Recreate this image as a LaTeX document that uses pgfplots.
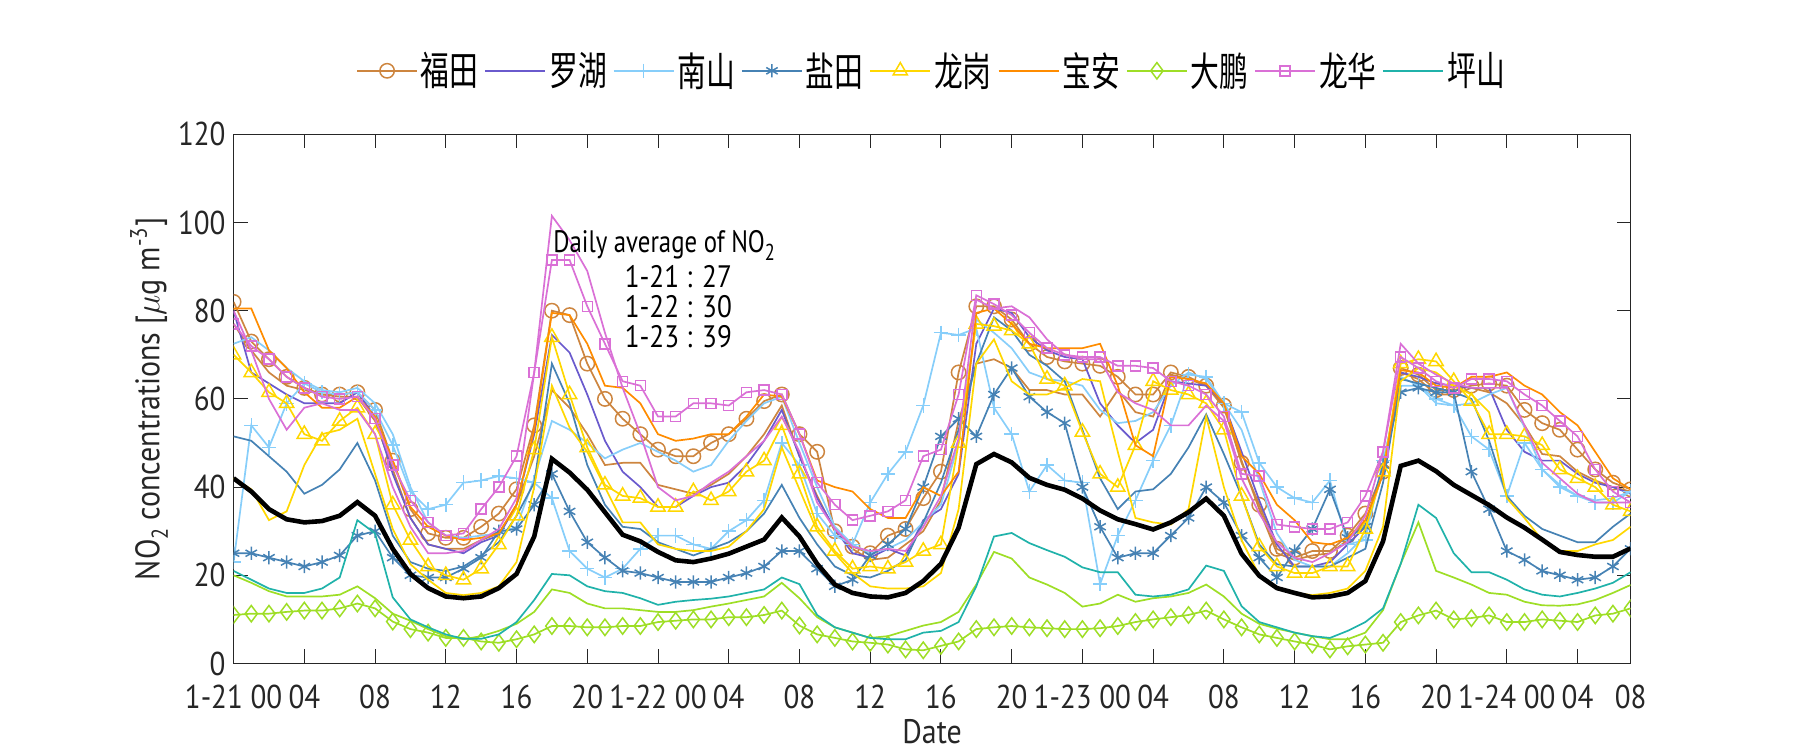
\documentclass[border=0pt]{standalone}
\usepackage{pgfplots}
\pgfplotsset{compat=1.18}
\usepackage{pgfplotstable}
\usepackage{fontspec}
\setmainfont{PT Sans}
\newfontfamily\cond[FakeStretch=0.88]{PT Sans}
\newfontfamily\condb[FakeStretch=0.8]{PT Sans}
\newfontfamily\cjk[FakeStretch=0.72]{Noto Sans CJK SC}
\definecolor{cFT}{RGB}{205,133,63}
\definecolor{cLH}{RGB}{106,90,205}
\definecolor{cNS}{RGB}{135,206,250}
\definecolor{cYT}{RGB}{70,130,180}
\definecolor{cLG}{RGB}{255,215,0}
\definecolor{cBA}{RGB}{255,140,0}
\definecolor{cDP}{RGB}{158,222,38}
\definecolor{cLHua}{RGB}{218,112,214}
\definecolor{cPS}{RGB}{32,178,170}
\definecolor{axgray}{RGB}{38,38,38}
\newcommand\tf{\cond\fontsize{16.5pt}{19pt}\selectfont}
\newcommand\lf{\cond\fontsize{17pt}{20pt}\selectfont}
\newcommand\af{\condb\fontsize{15.5pt}{18pt}\selectfont}
\newcommand\nf{\cond\fontsize{15.5pt}{18pt}\selectfont}
\newcommand\sub[1]{\raisebox{-0.5ex}{\fontsize{11.5pt}{11.5pt}\selectfont #1}}

\pgfplotstableread{
x fa fb lh nsa nsb yta ytb lga lgb ba dpa dpb lhua lhub ps avg
0 82 77 80 23 72.5 25 51.5 70 42 80.5 11 20 77 80 21 42
1 73 71 66 54 74 25 50.5 66 39.5 80.5 11.3 18.3 72 71 19 39
2 69 66 63.5 49 71 24 47 61.5 32.5 71 11.3 16.4 69 60 17 35
3 65 63 61 59 67 23 43.5 59 34.5 67 11.7 15.2 65 53 16 32.7
4 62.5 62 59 63.5 64 22 38.5 52 45 61.5 12 15.2 62.5 58 16 32
5 61 61 59 61.5 62 23 40.5 50.5 52 58 12 15.2 60.5 59 17 32.3
6 61 60.5 59 61 61.5 24.5 44 55 53 58 12.5 15.6 60 57.5 19.5 33.5
7 61.5 60.5 61.5 61.5 62.5 29 50 58 55.5 60.5 13.6 17.5 60.5 57.5 32.5 36.6
8 57.5 55 56 57.5 59 30 41.5 52 43 56 12.5 14.8 55.5 52 29.5 33.5
9 46 44 43 49.5 52 24 29 36 30.5 46 9.5 11.3 45 40 15 26
10 35 33 33 39 40 20 23 28 22.5 35.5 7.8 9.7 37 31 10 20.3
11 29.5 27 27 35 32 19.5 21.5 22 19 31 7 7.8 32 25 8.2 17.1
12 28.5 26 26 36 29 19.5 21 20 16 29 5.8 6.2 29 25 6.6 15.2
13 28.5 26 25 41 28.5 21.5 22 19 15.5 28 5.8 5.5 29.5 25.5 5.6 14.8
14 31 28 27.5 41.5 29 24 24.5 21.5 16 28.5 5 6.2 35 28 5.6 15.2
15 34 29.5 29 42.5 29.5 30 27.5 27 17.5 29.5 4.7 7.4 40 30.5 6.6 17.1
16 39.5 36 36 42 31 30.5 33.5 33.5 23 36 5.5 9 47 37.5 9.4 20.3
17 54 47 52 41 42 36 41 48.5 40 53 6.6 11.7 66 66 14.4 28.8
18 80 62 74.5 37.5 55 43 68 74 63 79.5 8.5 16.8 91.5 101.5 20.3 46.4
19 79 58 70.5 25.5 53 34.5 59 61 53.5 79 8.5 16 91.5 96 20 43.3
20 68 52 61 21.5 50 27.5 45 49 48 72.5 8.2 13.6 81 89 17.5 39.4
21 60 45 50.5 19.5 46.5 24 36 40.5 40 63 8.2 12.5 72.5 75 16.4 34.3
22 55.5 45.5 43.5 21.5 48.5 21 31 38 32 62.5 8.5 12.5 64 62.5 16 29.2
23 52 45.5 40 26 50 20.5 30.5 37.5 32 59 8.5 12.1 63 52 14.8 27.7
24 48.5 40.5 35.5 29 48 19.5 27.5 35.5 27 52 9.4 11.7 56 40 13.3 25.3
25 47 39.5 35.5 29 46 18.5 26 35.5 26 50.5 9.7 11.7 56 37 14 23.4
26 47 38.5 38 27 43.5 18.5 24.5 39 25.5 51 10 12.1 59 38 14.4 23
27 50 40.5 40 26 45 18.5 26 37 25.5 52 10 12.9 59 41 14.7 23.8
28 52 43 41 30 50.5 19.5 27.5 39 26.5 52 10.5 13.6 58.5 43.5 15.2 24.9
29 55.5 47 45 32.5 55 20.5 30 43.5 30 56 10.5 14.4 61.5 47 16 26.5
30 59.5 52 50.5 37 59 22 34 46 35 61 11 15.2 62 50.5 16.8 28.1
31 61 58.5 57.5 50 60.5 25.5 40.5 54 49 60.5 12 18.3 61 56 19.5 33.1
32 52 47 47 45 50 25.5 33 43 39.5 52 8.6 14.8 52 48 18 28.8
33 48 38 37.5 34 40 21.5 27 31 30 41.5 6.6 10.5 41 36.5 11 22.6
34 30 30 30.5 29 31 17.5 22 25.5 25 40 5.8 8.2 36 30.5 8.2 17.9
35 26.5 26 25 27 27 19 20 21.5 20.5 39 5 7 32.5 26.5 7 16
36 25 23.5 24 36.5 25 24.5 19.5 22 17.5 35 4.7 5.8 33.5 25.5 5.8 15.2
37 29 24 26 43 26 27 21 21.5 17 33 4.3 6.2 34.5 26 5.5 15
38 30.5 27 24.5 48 28 30.5 23.5 23 17 33 3.2 7.4 37 25.5 5.5 16
39 37.5 30 32.5 58.5 32 40 32 25.5 17.5 40 3 8.6 47 31 7 18.7
40 43.5 37 35 75 36 51.5 41 27 20.5 38 4 9.4 48.5 38 7.4 22.6
41 66 55 43 74.5 50 55.5 53 50 35 43.5 5 11.7 61 51 9.4 30.8
42 81 68 72.5 76 78 51.5 68 77 68 79.5 7.8 17.9 83.5 82.5 17.5 45.2
43 81 69 80.5 58 75 61 78.5 76.5 73.5 80.5 8.2 25.3 81.5 80.5 28.8 47.5
44 78 67 79.5 52 71.5 67 75.5 75.5 64 77 8.5 23.8 79 81 29.6 45.6
45 72.5 62 74 39 66 60.5 70 72.5 61 72.5 8.2 19.5 75 78.5 27.3 42.1
46 69.5 62 71 45 64.5 57 67.5 64.5 61 71.5 8 17.9 71.5 73.5 25.7 40.5
47 68.5 61 69.5 41.5 64 54.5 64 63 62.5 71.5 7.8 16 70 70 24.2 39.4
48 68 61 69 41 63 40 53 52.5 64.5 71.5 7.8 12.9 69.5 69 21.8 37.4
49 67.5 56 59 18 57.5 31 42 43 64 72.5 8 13.6 69.5 69 20.7 34.7
50 65 62 54 29 54.5 24 35 40 48 63 8.5 15.6 67.5 61.5 20.7 32.7
51 61 57 50 37 55 25 39 49.5 33 49.5 9.4 14 67.5 59 15.6 31.6
52 61 56 53 46 57 25 39.5 64 32 47 10 14.8 67 57.5 15.2 30.4
53 66 65.5 64 54 63 29 43 62 31.5 65 10.5 15.2 64 54 15.6 32
54 65 64.5 63.5 65.5 66 33 49 61 35 64.5 11 16 63 54 16.8 34.3
55 63 63 63 65 64.5 40 56.5 59 56 63.5 12 17.9 61 58.5 22.2 37.4
56 58.5 58 59 59 59 36.5 47.5 53 40 59 10 15.2 56 55 21 33.5
57 45.5 46 48 57 53 29 38 38 28 47 8.2 11.3 43 42 13 24.9
58 36 35 37 45.5 41.5 24 27 26.5 20 43 6.6 9 42.5 34 9.4 19.9
59 26 25 27 40 29.5 19.5 22.5 22 17 36 5.8 7.9 31.5 27.5 8.2 17.1
60 24 23.5 22 37.5 23.5 25.5 22 20.5 16 32.5 5 7 31 24 7 16
61 25.5 24.5 22 36.5 22 30.5 22 20.5 15.5 27.5 4.3 6.2 30.5 23 6.2 15
62 25.5 25 23 41.5 22 39.5 22 22 16 27 3.2 5.5 30.5 25 5.8 15.2
63 29 28 27 27 25 28.5 24 22 17 28.5 3.9 5.5 32 27.5 7.4 16
64 34 32 31 28 29 31 26 30.5 21 32.5 4.3 7 38 33.5 9.4 18.7
65 43.5 43 43.5 46 45 45 41 43.5 31 43 4.7 12.1 48 48 12.5 27.7
66 67 66 66 63 65 61.5 64.5 68 64 66.5 9.4 22.6 69.5 72.5 22.6 44.8
67 65.5 64.5 65 63 63 62.5 63.5 69 67 66 10.9 32 67 68 36 46
68 62 61 63.5 60 59 61.5 62.5 68.5 66 63 12 21 64 65.5 33 43.6
69 62 61 63 58.5 58.5 61.5 61.5 64 63 62.5 10 19.5 62.5 63.5 25 40.5
70 63 62.5 62.5 51.5 59 43.5 60 59.5 61 65 10.3 17.9 64.5 62.5 20.7 38.2
71 63.5 61.5 62.5 48.5 61 35 50.5 52 57 65 10.9 16 64.5 62.5 20.7 35.9
72 63 59 53 38 62.5 25.5 38 52 37.5 66 9.4 15.6 64 62.5 19 33.1
73 57.5 54 48 50 53.5 23.5 33.5 51.5 33 63 9.4 14 61 54 16.8 30.8
74 54.5 47.5 46 44 44 21 30.5 49.5 28 61 10 13.2 58.5 45.5 15.6 28.1
75 53 47 46 40 40.5 20 29 44 25.5 57 9.7 13.1 55 42 15.2 25.3
76 48.5 43.5 43 38 38 19 27.5 42 25.5 54 9.4 13.4 51.5 38.5 16 24.6
77 44 41.5 41 36.5 37 19.5 27.5 40 27 48 10.9 14.4 44 36.5 17 24.2
78 41 40 40 36.5 37.5 22 31 36 28 42 11.3 16 39 36.5 18.3 24.2
79 39.5 39 38.5 39 39 26 34 34.5 31 39.5 12.5 17.8 36.5 36.5 20.7 26.1
}\data

\begin{document}
\begin{tikzpicture}
\useasboundingbox (-116.8pt,-43.25pt) rectangle (783.2pt,331.75pt);
\begin{axis}[
  at={(0,0)}, anchor=south west,
  width=698.5pt, height=264.6pt, scale only axis,
  xmin=0, xmax=79, ymin=0, ymax=120,
  xtick={0,4,...,76,79},
  xticklabels={1-21 00,04,08,12,16,20,1-22 00,04,08,12,16,20,1-23 00,04,08,12,16,20,1-24 00,04,08},
  ytick={0,20,...,120},
  tick align=inside, tick pos=both, major tick length=7pt,
  axis line style={draw=axgray, line width=0.5pt},
  tick style={draw=axgray, line width=0.5pt},
  ticklabel style={font=\tf, text=axgray},
  /pgf/number format/assume math mode=true,
  xticklabel style={anchor=center, yshift=-16.75pt},
  yticklabel style={xshift=-0.5pt},
  xlabel={Date},
  xlabel style={at={(axis description cs:0.5,-0.128)}, anchor=center, font=\lf, text=axgray},
  ylabel={NO\sub{2} concentrations [$\mu$g m\textsuperscript{-3}]},
  ylabel style={at={(axis description cs:-0.0606,0.5)}, anchor=center, font=\lf, text=axgray},
  clip marker paths=true,
  every axis plot/.append style={line width=0.85pt},
  legend image code/.code={\draw[mark repeat=2,mark phase=2] plot coordinates {(0pt,0pt) (15pt,0pt) (30pt,0pt)};},
  legend style={at={(0.5,1.12)}, anchor=center, draw=none, fill=none,
    legend columns=9, font={\cjk\fontsize{20pt}{22pt}\selectfont},
    nodes={inner sep=1.5pt},
    /tikz/every even column/.append style={column sep=1.5pt}},
]
\addplot[color=cFT, mark=o, mark size=3.6pt, mark options={solid,line width=0.75pt}] table[x=x,y=fa]{\data};
\addlegendentry{福田}
\addplot[color=cFT, forget plot] table[x=x,y=fb]{\data};
\addplot[color=cLH] table[x=x,y=lh]{\data};
\addlegendentry{罗湖}
\addplot[color=cNS, mark=+, mark size=3.6pt, mark options={solid,line width=0.75pt}] table[x=x,y=nsa]{\data};
\addlegendentry{南山}
\addplot[color=cNS, forget plot] table[x=x,y=nsb]{\data};
\addplot[color=cYT, mark=asterisk, mark size=3.3pt, mark options={solid,line width=0.75pt}] table[x=x,y=yta]{\data};
\addlegendentry{盐田}
\addplot[color=cYT, forget plot] table[x=x,y=ytb]{\data};
\addplot[color=cLG, mark=triangle, mark size=4.1pt, mark options={solid,line width=0.75pt}] table[x=x,y=lga]{\data};
\addlegendentry{龙岗}
\addplot[color=cLG, forget plot] table[x=x,y=lgb]{\data};
\addplot[color=cBA] table[x=x,y=ba]{\data};
\addlegendentry{宝安}
\addplot[color=cDP, mark=diamond, mark size=4.1pt, mark options={solid,line width=0.75pt}] table[x=x,y=dpa]{\data};
\addlegendentry{大鹏}
\addplot[color=cDP, forget plot] table[x=x,y=dpb]{\data};
\addplot[color=cLHua, mark=square, mark size=2.5pt, mark options={solid,line width=0.75pt}] table[x=x,y=lhua]{\data};
\addlegendentry{龙华}
\addplot[color=cLHua, forget plot] table[x=x,y=lhub]{\data};
\addplot[color=cPS] table[x=x,y=ps]{\data};
\addlegendentry{坪山}
\addplot[black, line width=2.3pt, forget plot] table[x=x,y=avg]{\data};
\node[anchor=base west, font=\af, inner sep=0pt] at (axis cs:18.06,93.2) {Daily average of NO\sub{2}};
\node[anchor=base west, font=\nf, inner sep=0pt] at (axis cs:22.1,85.2) {1-21 : 27};
\node[anchor=base west, font=\nf, inner sep=0pt] at (axis cs:22.1,78.5) {1-22 : 30};
\node[anchor=base west, font=\nf, inner sep=0pt] at (axis cs:22.1,71.7) {1-23 : 39};
\end{axis}
\end{tikzpicture}
\end{document}
